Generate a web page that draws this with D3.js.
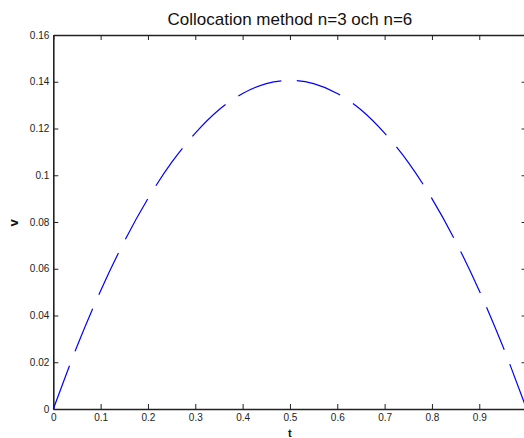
<!DOCTYPE html>
<html>
<head>
<meta charset="utf-8">
<script src="https://cdn.jsdelivr.net/npm/d3@7"></script>
<style>
  body { margin: 0; background: #fff; }
  svg { display: block; font-family: 'Liberation Sans', Arial, sans-serif; }
  .tick text { fill: #222; font-size: 10px; }
</style>
</head>
<body>
<div id="chart"></div>
<script>
// values
var tValues = [0, 0.05, 0.1, 0.15, 0.2, 0.25, 0.3, 0.35, 0.4, 0.45, 0.5,
  0.55, 0.6, 0.65, 0.7, 0.75, 0.8, 0.85, 0.9, 0.95, 1.0];
var vValues = [0, 0.0267, 0.0506, 0.0717, 0.090, 0.1055, 0.118, 0.128, 0.135, 0.1392, 0.1406,
  0.1392, 0.135, 0.128, 0.118, 0.1055, 0.090, 0.0717, 0.0506, 0.0267, 0];
var xTicks = [0, 0.1, 0.2, 0.3, 0.4, 0.5, 0.6, 0.7, 0.8, 0.9];
var yTicks = [0, 0.02, 0.04, 0.06, 0.08, 0.1, 0.12, 0.14, 0.16];
var titleText = 'Collocation method n=3 och n=6';

var W = 524, H = 438;
var plotL = 53.3, plotT = 35, plotR = 526.6, plotB = 409;

var svg = d3.select('#chart').append('svg')
  .attr('width', W)
  .attr('height', H);

var x = d3.scaleLinear().domain([0, 1]).range([plotL, plotR]);
var y = d3.scaleLinear().domain([0, 0.16]).range([plotB, plotT]);

var fmt = function(d) { return String(+d.toFixed(2)); };

// bottom axis
svg.append('g')
  .attr('class', 'xAxis')
  .attr('transform', 'translate(0,' + plotB + ')')
  .call(d3.axisBottom(x).tickValues(xTicks).tickSizeInner(-5).tickSizeOuter(0).tickPadding(5).tickFormat(fmt));

// top axis (ticks only)
svg.append('g')
  .attr('transform', 'translate(0,' + plotT + ')')
  .call(d3.axisTop(x).tickValues(xTicks).tickSizeInner(-5).tickSizeOuter(0).tickFormat(''));

// left axis
svg.append('g')
  .attr('class', 'yAxis')
  .attr('transform', 'translate(' + plotL + ',0)')
  .call(d3.axisLeft(y).tickValues(yTicks).tickSizeInner(-5).tickSizeOuter(0).tickPadding(4).tickFormat(fmt));

// right axis (ticks only)
svg.append('g')
  .attr('transform', 'translate(' + plotR + ',0)')
  .call(d3.axisRight(y).tickValues(yTicks).tickSizeInner(-5).tickSizeOuter(0).tickFormat(''));

svg.selectAll('.domain').attr('stroke', '#222').attr('stroke-width', 1.6);
svg.selectAll('.tick line').attr('stroke', '#222').attr('stroke-width', 1);

var line = d3.line()
  .x(function(d, i) { return x(tValues[i]); })
  .y(function(d) { return y(d); })
  .curve(d3.curveMonotoneX);

svg.append('path')
  .datum(vValues)
  .attr('fill', 'none')
  .attr('stroke', '#0000ff')
  .attr('stroke-width', 1.2)
  .attr('stroke-dasharray', '46,15.5')
  .attr('d', line);

svg.append('text')
  .attr('x', (plotL + plotR) / 2)
  .attr('y', 25)
  .attr('text-anchor', 'middle')
  .attr('font-size', 17)
  .attr('fill', '#111')
  .text(titleText);

svg.append('text')
  .attr('x', (plotL + plotR) / 2)
  .attr('y', 437)
  .attr('text-anchor', 'middle')
  .attr('font-size', 11)
  .attr('font-weight', 'bold')
  .attr('fill', '#111')
  .text('t');

svg.append('text')
  .attr('transform', 'translate(18,223) rotate(-90)')
  .attr('text-anchor', 'middle')
  .attr('font-size', 13)
  .attr('font-weight', 'bold')
  .attr('fill', '#111')
  .text('v');
</script>
</body>
</html>
